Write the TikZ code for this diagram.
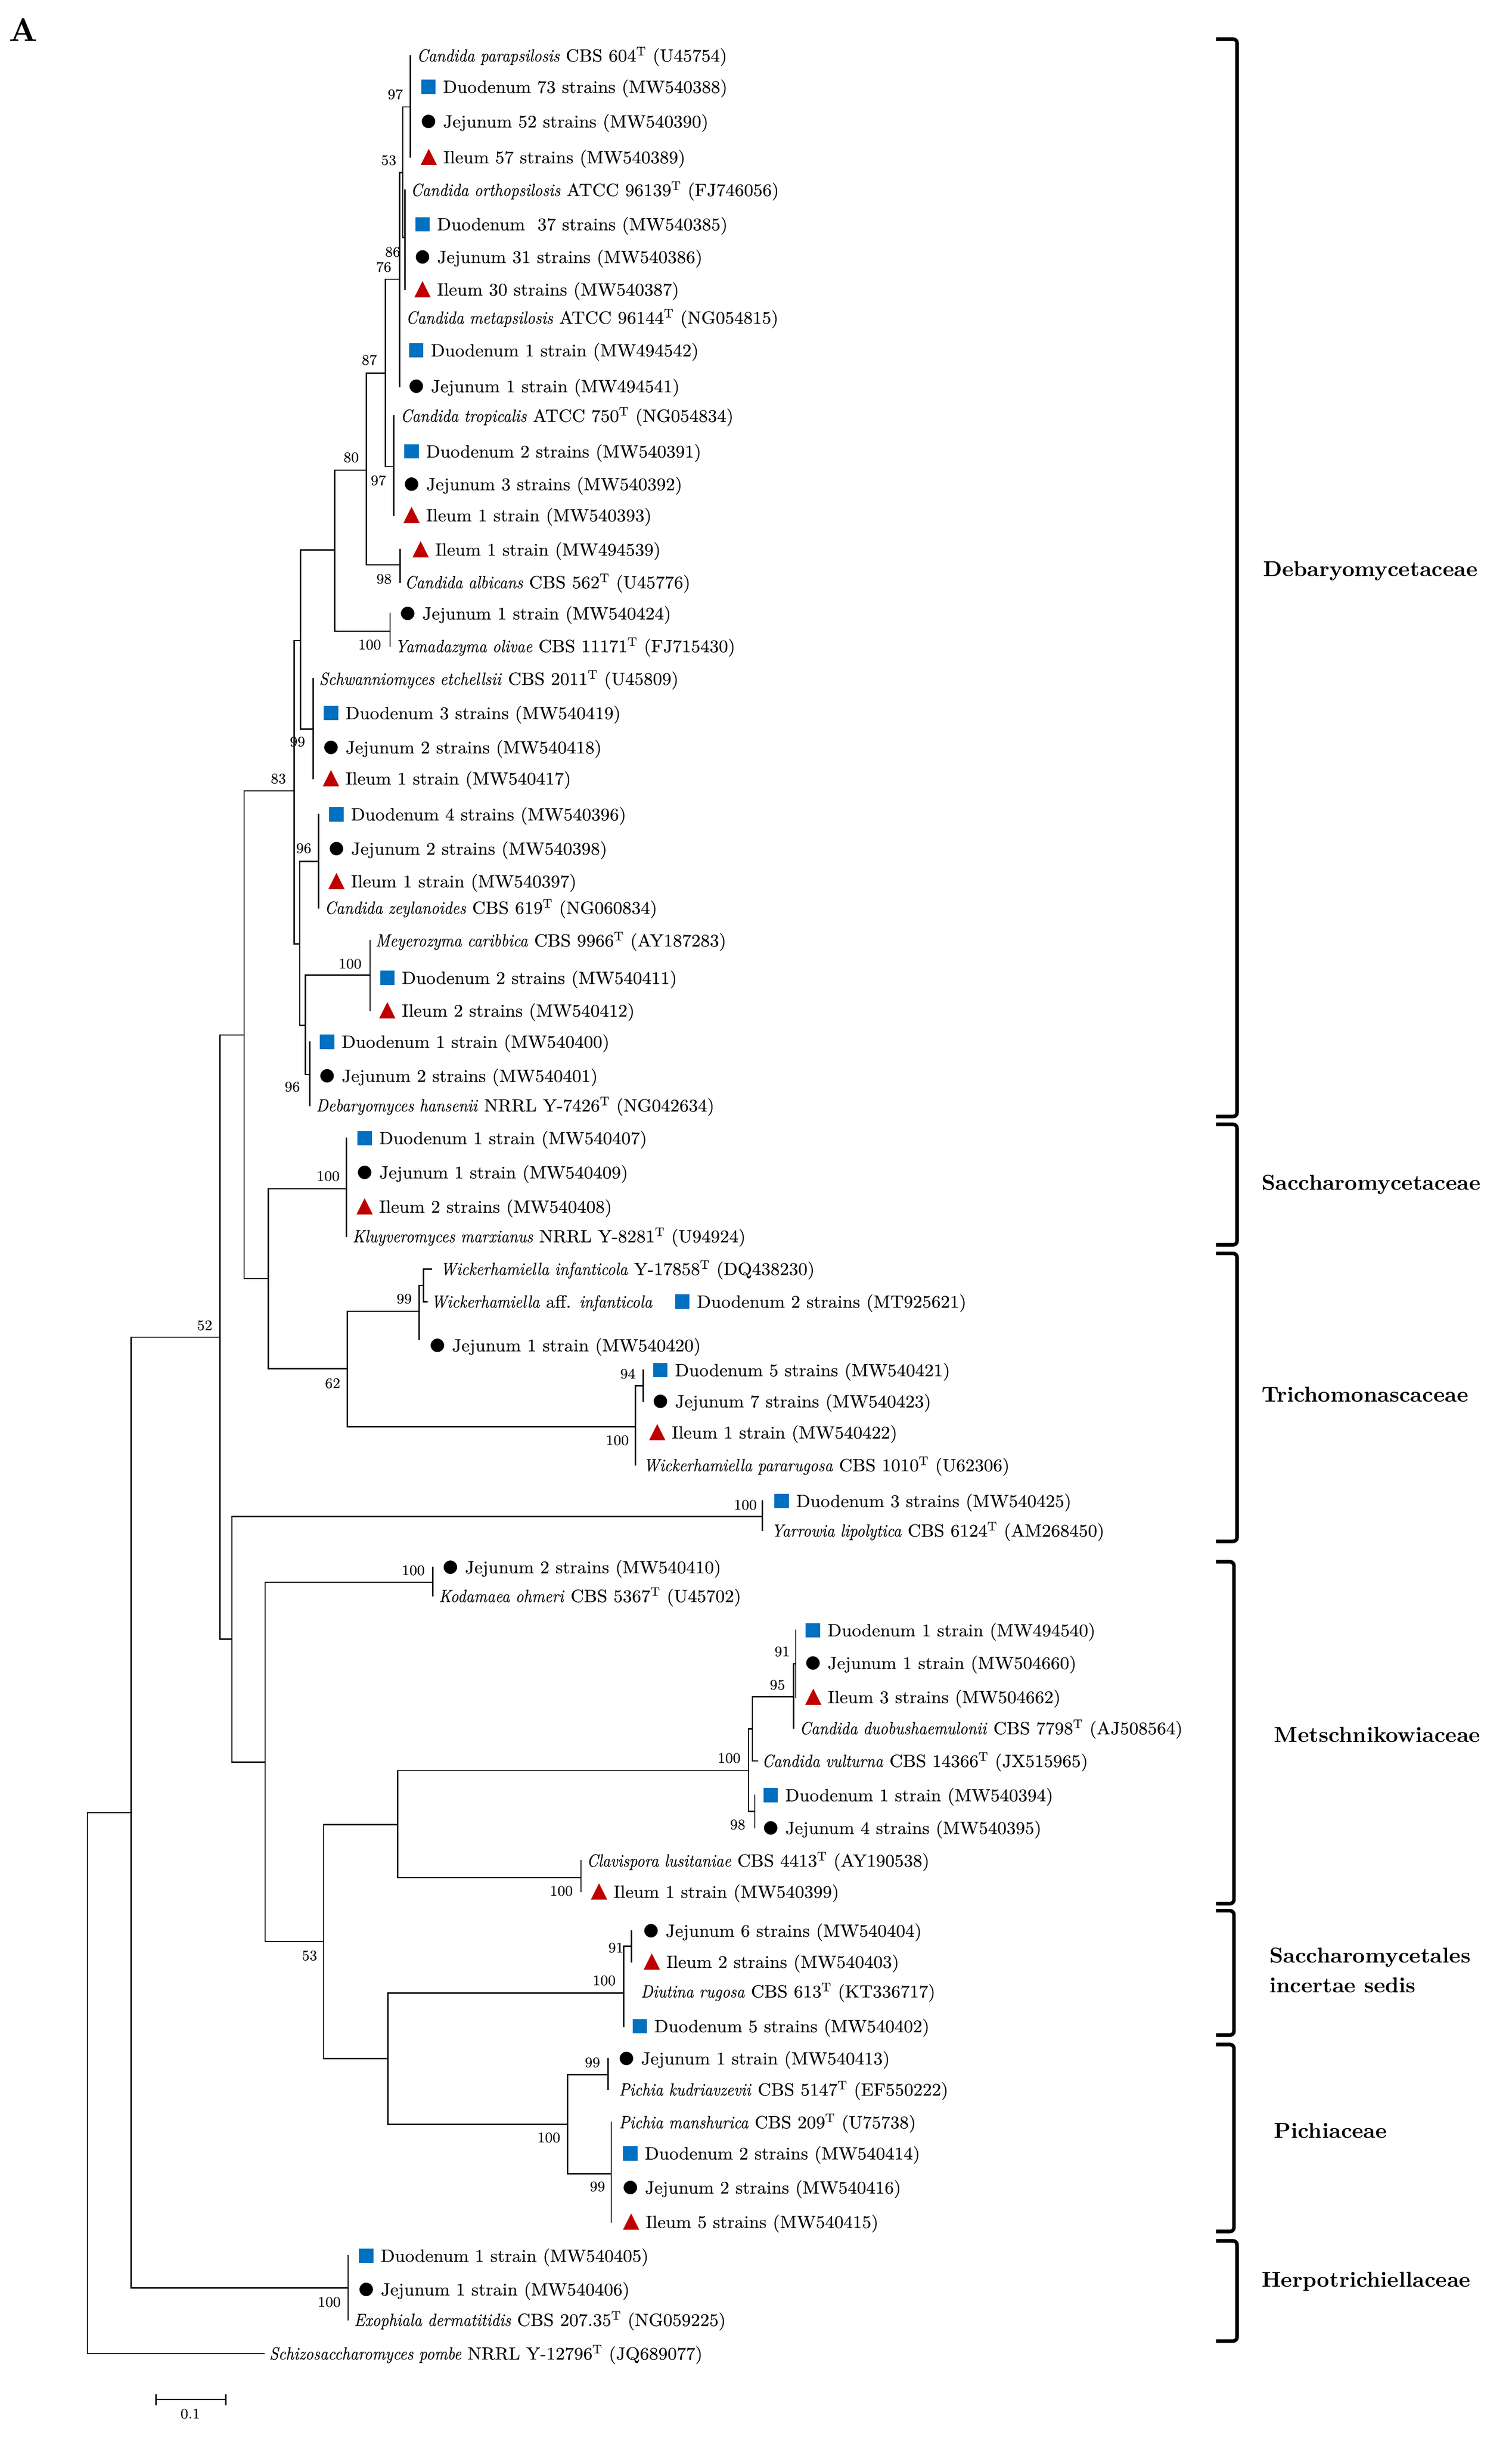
\documentclass[tikz,border=0pt]{standalone}
\usepackage{fontspec}
\setmainfont{lmroman10-regular.otf}[
  ItalicFont=lmroman10-italic.otf,
  BoldFont=lmroman10-bold.otf,
  BoldItalicFont=lmroman10-bolditalic.otf,
  UprightFeatures={FakeStretch=1.045, FakeBold=0.25},
  ItalicFeatures={FakeStretch=0.9, FakeBold=0.25}]
\usetikzlibrary{shapes.geometric}
\definecolor{duoblue}{RGB}{0,112,192}
\definecolor{ilered}{RGB}{192,0,0}
\newcommand{\tipfont}{\fontsize{11.3}{13}\selectfont}
\newcommand{\bsfont}{\fontsize{9.3}{11}\selectfont}
\newcommand{\famfont}{\fontsize{13.8}{16}\selectfont\bfseries}
\newcommand{\Ty}{\textsuperscript{T}}
\newcommand{\tipSq}[4]{\node[sqm] (#1m) at (#2,#3) {}; \node[tip] (#1) at (#2+9.3,#3) {#4};}
\newcommand{\tipCi}[4]{\node[cim] (#1m) at (#2,#3) {}; \node[tip] (#1) at (#2+9.3,#3) {#4};}
\newcommand{\tipTr}[4]{\fill[ilered] (#2-5.2,#3+5) -- (#2+5.2,#3+5) -- (#2,#3-5.4) -- cycle; \coordinate (#1m) at (#2,#3); \node[tip] (#1) at (#2+9.3,#3) {#4};}
\newcommand{\tipSp}[4]{\node[tip] (#1) at (#2,#3) {#4};}
\newcommand{\bsv}[4]{\node[bsl] (#1) at (#2,#3) {#4};}
\begin{document}
\begin{tikzpicture}[x=1pt,y=-1pt,
  tip/.style={anchor=base west, inner sep=0pt, outer sep=0pt, yshift=-3.85pt, font=\tipfont},
  bsl/.style={inner sep=0pt, font=\bsfont},
  fam/.style={anchor=base west, inner sep=0pt, yshift=-3.4pt, font=\famfont},
  sqm/.style={rectangle, fill=duoblue, minimum size=9.2pt, inner sep=0pt},
  cim/.style={circle, fill=black, minimum size=8.6pt, inner sep=0pt},
  tree/.style={line width=0.8pt, line cap=rect},
  brk/.style={line width=2.3pt, rounded corners=2.5pt}]
\fill[white] (0,0) rectangle (966.1,1559.9);
\useasboundingbox (0,0) rectangle (966.1,1559.9);

\node[font=\fontsize{21}{24}\selectfont\bfseries, inner sep=0pt] (lblA) at (14.8,19) {A};

% ---------------- tips ----------------
\tipSp{t1}{266.4}{35.5}{\textit{Candida parapsilosis} CBS 604\Ty{} (U45754)}
\tipSq{t2}{273.8}{55.5}{Duodenum 73 strains (MW540388)}
\tipCi{t3}{273.8}{77.6}{Jejunum 52 strains (MW540390)}
\tipTr{t4}{274}{100.5}{Ileum 57 strains (MW540389)}
\tipSp{t5}{262.5}{121.4}{\textit{Candida orthopsilosis} ATCC 96139\Ty{} (FJ746056)}
\tipSq{t6}{270}{143.3}{Duodenum\ \ 37 strains (MW540385)}
\tipCi{t7}{270}{164.2}{Jejunum 31 strains (MW540386)}
\tipTr{t8}{270}{185}{Ileum 30 strains (MW540387)}
\tipSp{t9}{259.5}{203}{\textit{Candida metapsilosis} ATCC 96144\Ty{} (NG054815)}
\tipSq{t10}{266}{223.9}{Duodenum 1 strain (MW494542)}
\tipCi{t11}{266}{246.8}{Jejunum 1 strain (MW494541)}
\tipSp{t12}{256}{265.7}{\textit{Candida tropicalis} ATCC 750\Ty{} (NG054834)}
\tipSq{t13}{263}{288.5}{Duodenum 2 strains (MW540391)}
\tipCi{t14}{263}{309.4}{Jejunum 3 strains (MW540392)}
\tipTr{t15}{263}{329.3}{Ileum 1 strain (MW540393)}
\tipTr{t16}{268.8}{351.2}{Ileum 1 strain (MW494539)}
\tipSp{t17}{258.7}{372.1}{\textit{Candida albicans} CBS 562\Ty{} (U45776)}
\tipCi{t18}{260.5}{392}{Jejunum 1 strain (MW540424)}
\tipSp{t19}{252.5}{412.9}{\textit{Yamadazyma olivae} CBS 11171\Ty{} (FJ715430)}
\tipSp{t20}{204}{433.8}{\textit{Schwanniomyces etchellsii} CBS 2011\Ty{} (U45809)}
\tipSq{t21}{211.5}{455.7}{Duodenum 3 strains (MW540419)}
\tipCi{t22}{211.5}{477.6}{Jejunum 2 strains (MW540418)}
\tipTr{t23}{211.5}{497.5}{Ileum 1 strain (MW540417)}
\tipSq{t24}{215}{520.4}{Duodenum 4 strains (MW540396)}
\tipCi{t25}{215}{542.3}{Jejunum 2 strains (MW540398)}
\tipTr{t26}{215}{563.2}{Ileum 1 strain (MW540397)}
\tipSp{t27}{207.5}{580.1}{\textit{Candida zeylanoides} CBS 619\Ty{} (NG060834)}
\tipSp{t28}{240}{601}{\textit{Meyerozyma caribbica} CBS 9966\Ty{} (AY187283)}
\tipSq{t29}{247.5}{624.9}{Duodenum 2 strains (MW540411)}
\tipTr{t30}{247.5}{645.8}{Ileum 2 strains (MW540412)}
\tipSq{t31}{209}{665.7}{Duodenum 1 strain (MW540400)}
\tipCi{t32}{209}{687.5}{Jejunum 2 strains (MW540401)}
\tipSp{t33}{202}{706.4}{\textit{Debaryomyces hansenii} NRRL Y-7426\Ty{} (NG042634)}
\tipSq{t34}{233}{727.3}{Duodenum 1 strain (MW540407)}
\tipCi{t35}{233}{749.2}{Jejunum 1 strain (MW540409)}
\tipTr{t36}{233}{771.1}{Ileum 2 strains (MW540408)}
\tipSp{t37}{225.3}{790}{\textit{Kluyveromyces marxianus} NRRL Y-8281\Ty{} (U94924)}
\tipSp{t38}{281.5}{810.9}{\textit{Wickerhamiella infanticola} Y-17858\Ty{} (DQ438230)}
\tipSp{t39a}{275.5}{831.8}{\textit{Wickerhamiella} aff. \textit{infanticola}}
\tipSq{t39}{436}{831.8}{Duodenum 2 strains (MT925621)}
\tipCi{t40}{279.5}{859.7}{Jejunum 1 strain (MW540420)}
\tipSq{t41}{422}{875.6}{Duodenum 5 strains (MW540421)}
\tipCi{t42}{422}{895.5}{Jejunum 7 strains (MW540423)}
\tipTr{t43}{420}{915.4}{Ileum 1 strain (MW540422)}
\tipSp{t44}{411.3}{936.3}{\textit{Wickerhamiella pararugosa} CBS 1010\Ty{} (U62306)}
\tipSq{t45}{499.5}{959.2}{Duodenum 3 strains (MW540425)}
\tipSp{t46}{493}{978.1}{\textit{Yarrowia lipolytica} CBS 6124\Ty{} (AM268450)}
\tipCi{t47}{287.8}{1001.5}{Jejunum 2 strains (MW540410)}
\tipSp{t48}{280.5}{1019.9}{\textit{Kodamaea ohmeri} CBS 5367\Ty{} (U45702)}
\tipSq{t49}{519.5}{1041.8}{Duodenum 1 strain (MW494540)}
\tipCi{t50}{519.5}{1062.7}{Jejunum 1 strain (MW504660)}
\tipTr{t51}{519.7}{1084.5}{Ileum 3 strains (MW504662)}
\tipSp{t52}{511}{1104.4}{\textit{Candida duobushaemulonii} CBS 7798\Ty{} (AJ508564)}
\tipSp{t53}{487}{1125.3}{\textit{Candida vulturna} CBS 14366\Ty{} (JX515965)}
\tipSq{t54}{492.5}{1147.2}{Duodenum 1 strain (MW540394)}
\tipCi{t55}{492.5}{1168.1}{Jejunum 4 strains (MW540395)}
\tipSp{t56}{375}{1189}{\textit{Clavispora lusitaniae} CBS 4413\Ty{} (AY190538)}
\tipTr{t57}{382.8}{1208.9}{Ileum 1 strain (MW540399)}
\tipCi{t58}{416}{1233.8}{Jejunum 6 strains (MW540404)}
\tipTr{t59}{416.5}{1253.7}{Ileum 2 strains (MW540403)}
\tipSp{t60}{409.5}{1272.6}{\textit{Diutina rugosa} CBS 613\Ty{} (KT336717)}
\tipSq{t61}{408.8}{1294.8}{Duodenum 5 strains (MW540402)}
\tipCi{t62}{400.3}{1315.4}{Jejunum 1 strain (MW540413)}
\tipSp{t63}{395.5}{1335.3}{\textit{Pichia kudriavzevii} CBS 5147\Ty{} (EF550222)}
\tipSp{t64}{395.5}{1356.2}{\textit{Pichia manshurica} CBS 209\Ty{} (U75738)}
\tipSq{t65}{402.8}{1376.1}{Duodenum 2 strains (MW540414)}
\tipCi{t66}{402.8}{1397.9}{Jejunum 2 strains (MW540416)}
\tipTr{t67}{403.3}{1419.9}{Ileum 5 strains (MW540415)}
\tipSq{t68}{234}{1441.5}{Duodenum 1 strain (MW540405)}
\tipCi{t69}{234}{1463}{Jejunum 1 strain (MW540406)}
\tipSp{t70}{226.3}{1482.5}{\textit{Exophiala dermatitidis} CBS 207.35\Ty{} (NG059225)}
\tipSp{t71}{172.2}{1504}{\textit{Schizosaccharomyces pombe} NRRL Y-12796\Ty{} (JQ689077)}

% ---------------- tree: vertical lines ----------------
\draw[tree] (262.3,35.5) -- (262.3,100.5);
\draw[tree] (257.4,68.3) -- (257.4,151.8);
\draw[tree] (258.8,121.4) -- (258.8,185);
\draw[tree] (255.3,110.2) -- (255.3,247);
\draw[tree] (246.3,178.4) -- (246.3,298.3);
\draw[tree] (251.6,265.7) -- (251.6,329.3);
\draw[tree] (234.1,238.5) -- (234.1,361);
\draw[tree] (255.7,351.2) -- (255.7,372.1);
\draw[tree] (213.9,300.5) -- (213.9,403.4);
\draw[tree] (249.3,392) -- (249.3,412.9);
\draw[tree] (192.1,351.4) -- (192.1,466);
\draw[tree] (200.1,433.8) -- (200.1,497.5);
\draw[tree] (188,409.3) -- (188,603.2);
\draw[tree] (191.6,550.5) -- (191.6,655.3);
\draw[tree] (203.6,520.4) -- (203.6,580.1);
\draw[tree] (195.2,623.2) -- (195.2,686.7);
\draw[tree] (236.5,601) -- (236.5,645.8);
\draw[tree] (197.9,665.7) -- (197.9,706.4);
\draw[tree] (156,505.4) -- (156,817);
\draw[tree] (221.3,727.3) -- (221.3,790);
\draw[tree] (171.5,759.7) -- (171.5,874.6);
\draw[tree] (222,838) -- (222,911.8);
\draw[tree] (267.9,821.4) -- (267.9,856);
\draw[tree] (270.6,810.9) -- (270.6,831.8);
\draw[tree] (406.1,885.5) -- (406.1,936.3);
\draw[tree] (411.1,875.6) -- (411.1,895.5);
\draw[tree] (140.5,661.4) -- (140.5,1047.4);
\draw[tree] (148.2,969.2) -- (148.2,1126);
\draw[tree] (487.1,959.2) -- (487.1,978.1);
\draw[tree] (169.4,1011.1) -- (169.4,1240.7);
\draw[tree] (276.5,1001.5) -- (276.5,1019.9);
\draw[tree] (206.8,1166) -- (206.8,1315.5);
\draw[tree] (254.1,1131.5) -- (254.1,1199.8);
\draw[tree] (478.3,1104.8) -- (478.3,1157.6);
\draw[tree] (480.8,1084.3) -- (480.8,1125.3);
\draw[tree] (507.2,1063.2) -- (507.2,1104.4);
\draw[tree] (508.5,1041.8) -- (508.5,1084.5);
\draw[tree] (482.3,1147.2) -- (482.3,1168.1);
\draw[tree] (371.2,1189) -- (371.2,1208.9);
\draw[tree] (247.9,1273.6) -- (247.9,1357.5);
\draw[tree] (398.6,1243.7) -- (398.6,1294.8);
\draw[tree] (403.6,1233.8) -- (403.6,1253.7);
\draw[tree] (362.7,1325.8) -- (362.7,1389.1);
\draw[tree] (388.6,1315.4) -- (388.6,1335.3);
\draw[tree] (390.6,1356.2) -- (390.6,1419.9);
\draw[tree] (83.7,854.5) -- (83.7,1462);
\draw[tree] (222.4,1441.5) -- (222.4,1482.5);
\draw[tree] (55.8,1158.4) -- (55.8,1504);

% ---------------- tree: horizontal lines ----------------
\draw[tree] (257.4,68.3) -- (262.3,68.3);
\draw[tree] (257.4,151.8) -- (258.8,151.8);
\draw[tree] (255.3,110.2) -- (257.4,110.2);
\draw[tree] (246.3,178.4) -- (255.3,178.4);
\draw[tree] (246.3,298.3) -- (251.6,298.3);
\draw[tree] (234.1,238.5) -- (246.3,238.5);
\draw[tree] (234.1,361) -- (255.7,361);
\draw[tree] (213.9,300.5) -- (234.1,300.5);
\draw[tree] (213.9,403.4) -- (249.3,403.4);
\draw[tree] (192.1,351.4) -- (213.9,351.4);
\draw[tree] (192.1,466) -- (200.1,466);
\draw[tree] (188,409.3) -- (192.1,409.3);
\draw[tree] (188,603.2) -- (191.6,603.2);
\draw[tree] (191.6,550.5) -- (203.6,550.5);
\draw[tree] (191.6,655.3) -- (195.2,655.3);
\draw[tree] (195.2,623.2) -- (236.5,623.2);
\draw[tree] (195.2,686.7) -- (197.9,686.7);
\draw[tree] (156,505.4) -- (188,505.4);
\draw[tree] (140.5,661.4) -- (156,661.4);
\draw[tree] (156,817) -- (171.5,817);
\draw[tree] (171.5,759.7) -- (221.3,759.7);
\draw[tree] (171.5,874.6) -- (222,874.6);
\draw[tree] (222,838) -- (267.9,838);
\draw[tree] (267.9,821.4) -- (270.6,821.4);
\draw[tree] (270.6,810.9) -- (275.8,810.9);
\draw[tree] (270.6,831.8) -- (273,831.8);
\draw[tree] (222,911.8) -- (406.1,911.8);
\draw[tree] (406.1,885.5) -- (411.1,885.5);
\draw[tree] (83.7,854.5) -- (140.5,854.5);
\draw[tree] (140.5,1047.4) -- (148.2,1047.4);
\draw[tree] (148.2,969.2) -- (487.1,969.2);
\draw[tree] (148.2,1126) -- (169.4,1126);
\draw[tree] (169.4,1011.1) -- (276.5,1011.1);
\draw[tree] (169.4,1240.7) -- (206.8,1240.7);
\draw[tree] (206.8,1166) -- (254.1,1166);
\draw[tree] (254.1,1131.5) -- (478.3,1131.5);
\draw[tree] (254.1,1199.8) -- (371.2,1199.8);
\draw[tree] (478.3,1104.8) -- (480.8,1104.8);
\draw[tree] (480.8,1084.3) -- (507.2,1084.3);
\draw[tree] (480.8,1125.3) -- (484,1125.3);
\draw[tree] (507.2,1063.2) -- (508.5,1063.2);
\draw[tree] (478.3,1157.6) -- (482.3,1157.6);
\draw[tree] (206.8,1315.5) -- (247.9,1315.5);
\draw[tree] (247.9,1273.6) -- (398.6,1273.6);
\draw[tree] (398.6,1243.7) -- (403.6,1243.7);
\draw[tree] (247.9,1357.5) -- (362.7,1357.5);
\draw[tree] (362.7,1325.8) -- (388.6,1325.8);
\draw[tree] (362.7,1389.1) -- (390.6,1389.1);
\draw[tree] (83.7,1462) -- (222.4,1462);
\draw[tree] (55.8,1158.4) -- (83.7,1158.4);
\draw[tree] (55.8,1504) -- (168.6,1504);

% ---------------- bootstrap values ----------------
\bsv{b1}{252.6}{60.3}{97}
\bsv{b2}{248.4}{102.4}{53}
\bsv{b3}{251}{161}{86}
\bsv{b4}{245.2}{170.6}{76}
\bsv{b5}{236}{230}{87}
\bsv{b6}{224.4}{292.3}{80}
\bsv{b7}{241.8}{307}{97}
\bsv{b8}{245.4}{370}{98}
\bsv{b9}{236.2}{412}{100}
\bsv{b10}{190.1}{474}{99}
\bsv{b11}{177.9}{497.6}{83}
\bsv{b12}{194.1}{542.1}{96}
\bsv{b13}{223.7}{615.9}{100}
\bsv{b14}{186.8}{694.5}{96}
\bsv{b15}{209.7}{751.6}{100}
\bsv{b16}{258.3}{830}{99}
\bsv{b17}{212.6}{884}{62}
\bsv{b18}{401.2}{877.9}{94}
\bsv{b19}{394.5}{920.4}{100}
\bsv{b20}{476.3}{961.7}{100}
\bsv{b21}{130.8}{847}{52}
\bsv{b22}{264.1}{1003.5}{100}
\bsv{b23}{499.8}{1055.4}{91}
\bsv{b24}{496.8}{1076.7}{95}
\bsv{b25}{465.9}{1123.5}{100}
\bsv{b26}{471.4}{1166}{98}
\bsv{b27}{358.7}{1208.4}{100}
\bsv{b28}{197.8}{1249.7}{53}
\bsv{b29}{393.6}{1244.7}{91}
\bsv{b30}{386.1}{1265.6}{100}
\bsv{b31}{378.6}{1318}{99}
\bsv{b32}{350.7}{1366}{100}
\bsv{b33}{381.8}{1397.3}{99}
\bsv{b34}{210.4}{1471.1}{100}

% ---------------- scale bar ----------------
\coordinate (sbl) at (99.6,1533.4);
\coordinate (sbr) at (144.3,1533.4);
\draw[line width=0.8pt] (sbl) -- (sbr);
\draw[line width=0.8pt] ([yshift=3.6pt]sbl) -- ([yshift=-3.6pt]sbl);
\draw[line width=0.8pt] ([yshift=3.6pt]sbr) -- ([yshift=-3.6pt]sbr);
\node[bsl] (sbt) at (121.6,1542.5) {0.1};

% ---------------- family brackets ----------------
\draw[brk] (777,25) -- (790.5,25) -- (790.5,713.5) -- (777,713.5);
\draw[brk] (777,718.5) -- (790.5,718.5) -- (790.5,795.5) -- (777,795.5);
\draw[brk] (777,801) -- (790.5,801) -- (790.5,985) -- (777,985);
\draw[brk] (777,998) -- (788.5,998) -- (788.5,1216.5) -- (777,1216.5);
\draw[brk] (777,1221) -- (788.5,1221) -- (788.5,1300.5) -- (777,1300.5);
\draw[brk] (777,1306.5) -- (788.5,1306.5) -- (788.5,1426) -- (777,1426);
\draw[brk] (777,1432) -- (790.5,1432) -- (790.5,1496) -- (777,1496);

\node[fam] (f1) at (807,365) {Debaryomycetaceae};
\node[fam] (f2) at (806,757) {Saccharomycetaceae};
\node[fam] (f3) at (806,892.5) {Trichomonascaceae};
\node[fam] (f4) at (814,1110) {Metschnikowiaceae};
\node[fam] (f5) at (811,1251) {Saccharomycetales};
\node[fam] (f5b) at (811,1270) {incertae sedis};
\node[fam] (f6) at (814,1363) {Pichiaceae};
\node[fam] (f7) at (806,1458) {Herpotrichiellaceae};
\end{tikzpicture}
\end{document}
